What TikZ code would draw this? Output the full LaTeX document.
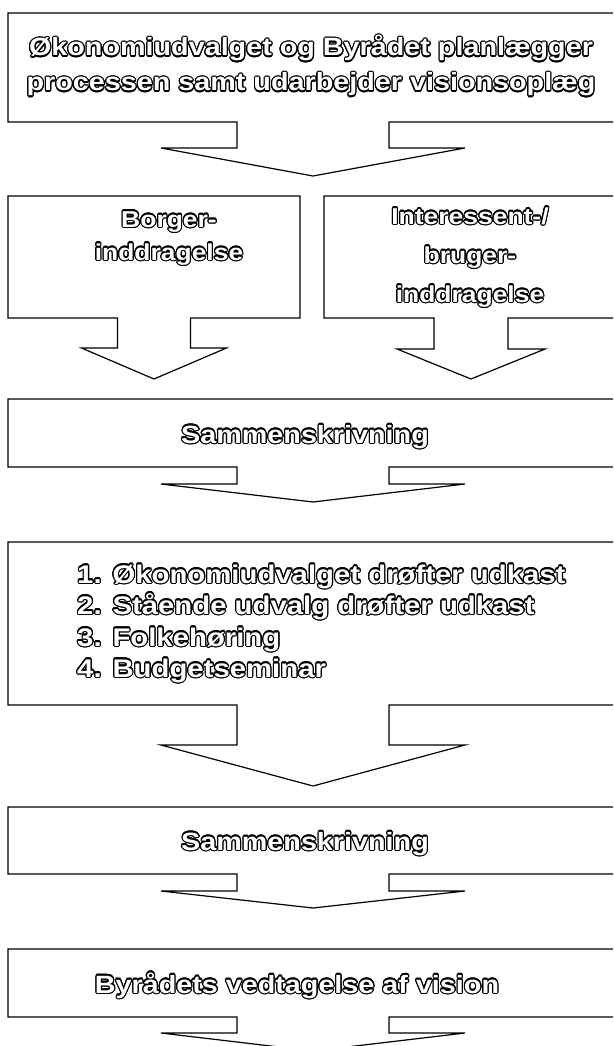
\documentclass[tikz,border=0pt]{standalone}
\usepackage{fontspec}
\usepackage{xcolor}
\newfontfamily\hfont{Liberation Sans}[FakeStretch=1.15]
\newsavebox\otb
\newsavebox\otw
\newcommand{\otc}[2]{\rlap{\kern#1\raisebox{#2}{\usebox\otb}}}
\newcommand{\otxt}[1]{\sbox\otb{\color{black}#1}\sbox\otw{\color{white}#1}%
\otc{1.2pt}{0pt}\otc{-1.2pt}{0pt}\otc{0pt}{1.2pt}\otc{0pt}{-1.2pt}%
\otc{.85pt}{.85pt}\otc{-.85pt}{.85pt}\otc{.85pt}{-.85pt}\otc{-.85pt}{-.85pt}%
\otc{1.1pt}{.46pt}\otc{-1.1pt}{.46pt}\otc{1.1pt}{-.46pt}\otc{-1.1pt}{-.46pt}%
\otc{.46pt}{1.1pt}\otc{-.46pt}{1.1pt}\otc{.46pt}{-1.1pt}\otc{-.46pt}{-1.1pt}%
\usebox\otw}
\tikzset{
  shapeline/.style={draw=black, line width=1.2pt, fill=white, line join=miter},
  lbl/.style={font=\hfont\bfseries\fontsize{25}{30}\selectfont, inner sep=0pt, anchor=base},
  lbls/.style={lbl, font=\hfont\bfseries\fontsize{23}{28}\selectfont},
  lbll/.style={lbl, anchor=base west, font=\hfont\bfseries\fontsize{25.5}{30}\selectfont},
}
% L R top bot shaftbot tip shafthalf headhalf
\newcommand{\callout}[8]{%
  \pgfmathsetmacro\cx{(#1+#2)/2}
  \draw[shapeline] (#1,#3) -- (#2,#3) -- (#2,#4) -- (\cx+#7,#4) -- (\cx+#7,#5)
    -- (\cx+#8,#5) -- (\cx,#6) -- (\cx-#8,#5) -- (\cx-#7,#5) -- (\cx-#7,#4)
    -- (#1,#4) -- cycle;
}
\begin{document}
\begin{tikzpicture}[x=1pt,y=-1pt]
\useasboundingbox (0,0) rectangle (613,1046);
\clip (0,0) rectangle (613,1046);
\fill[white] (0,0) rectangle (613,1046);
% shapes
\callout{8}{618}{13}{122}{148}{176}{76}{152}
\callout{8}{300}{196}{318}{348}{379}{36.5}{72.5}
\callout{324}{618}{196}{318}{349}{379}{37}{74}
\callout{8}{618}{399}{467}{484}{502}{76}{152}
\callout{8}{618}{542}{705}{745}{786}{76}{152}
\callout{8}{618}{807}{874}{891}{908}{76}{152}
\callout{8}{618}{949}{1017}{1033}{1051}{76}{152}
% texts
\node[lbl] (t1a) at (311,56) {\otxt{Økonomiudvalget og Byrådet planlægger}};
\node[lbl] (t1b) at (311,91) {\otxt{processen samt udarbejder visionsoplæg}};
\node[lbls] (t2a) at (169,227) {\otxt{Borger-}};
\node[lbls] (t2b) at (169,260) {\otxt{inddragelse}};
\node[lbls] (t3a) at (470,224) {\otxt{Interessent-/}};
\node[lbls] (t3b) at (470,263) {\otxt{bruger-}};
\node[lbls] (t3c) at (470,302) {\otxt{inddragelse}};
\node[lbl] (t4) at (305,443) {\otxt{Sammenskrivning}};
\node[lbll] (t5a) at (77,583) {\otxt{1. Økonomiudvalget drøfter udkast}};
\node[lbll] (t5b) at (77,614) {\otxt{2. Stående udvalg drøfter udkast}};
\node[lbll] (t5c) at (77,646) {\otxt{3. Folkehøring}};
\node[lbll] (t5d) at (77,677) {\otxt{4. Budgetseminar}};
\node[lbl] (t6) at (305,850) {\otxt{Sammenskrivning}};
\node[lbl] (t7) at (297,993) {\otxt{Byrådets vedtagelse af vision}};
\end{tikzpicture}
\end{document}
